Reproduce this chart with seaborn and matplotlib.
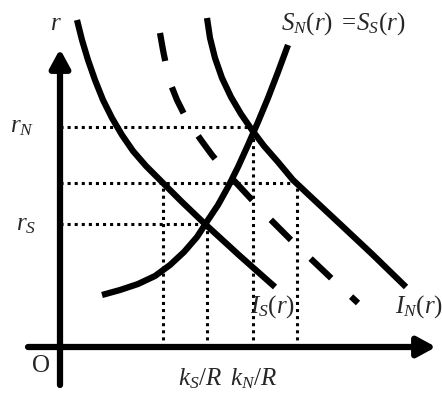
import pandas as pd
import matplotlib.pyplot as plt
import seaborn as sns

# Kurver (origo i O, enheder ~ pixels)
s_x = [42, 60, 78, 95, 110, 124, 137, 148, 158, 168, 178, 188, 198, 208, 218, 228]
s_y = [52, 57, 63, 71, 82, 95, 110, 127, 142, 160, 180, 202, 225, 249, 275, 302]
is_x = [17, 22, 28, 35, 43, 52, 62, 73, 86, 100, 122, 145, 180, 215]
is_y = [327, 307, 287, 267, 247, 229, 212, 196, 181, 167, 145, 123, 91, 60]
in_x = [147, 150, 155, 162, 171, 181, 192, 204, 218, 233, 250, 280, 312, 346]
in_y = [329, 309, 289, 269, 250, 233, 217, 201, 185, 167, 151, 123, 93, 60]
mid_x = [100, 103, 106, 111, 117, 124, 132, 141, 152, 166, 180, 193, 210, 230, 250, 270, 298]
mid_y = [314, 297, 282, 262, 247, 233, 220, 207, 192, 175, 160, 146, 128, 108, 89, 70, 44]

# Hjælpelinjer: renter (r_N, midt, r_S) og k/R-værdier
rates = [220, 164, 123]
rate_ends = [193, 237, 147]
k_vals = [103, 147, 193, 237]
k_tops = [164, 123, 220, 164]

sns.set_style('white')
plt.rcParams['font.family'] = ['Liberation Serif', 'DejaVu Serif']
plt.rcParams['mathtext.fontset'] = 'custom'
plt.rcParams['mathtext.rm'] = 'Liberation Serif'
plt.rcParams['mathtext.it'] = 'Liberation Serif:italic'
plt.rcParams['lines.scale_dashes'] = False

fig, ax = plt.subplots(figsize=(4.42, 3.94), dpi=100)
fig.subplots_adjust(0, 0, 1, 1)
ax.set_axis_off()
ax.set_xlim(-60, 382)
ax.set_ylim(-47, 347)

lw = 4.5
df_s = pd.DataFrame({'x': s_x, 'y': s_y})
sns.lineplot(data=df_s, x='x', y='y', sort=False, estimator=None, color='black',
             lw=lw, solid_capstyle='butt', solid_joinstyle='round', ax=ax)
sns.lineplot(x=is_x, y=is_y, sort=False, estimator=None, color='black',
             lw=lw, solid_capstyle='butt', solid_joinstyle='round', ax=ax)
sns.lineplot(x=in_x, y=in_y, sort=False, estimator=None, color='black',
             lw=lw, solid_capstyle='butt', solid_joinstyle='round', ax=ax)
sns.lineplot(x=mid_x, y=mid_y, sort=False, estimator=None, color='black',
             lw=lw, linestyle=(0, (20.5, 19.5)), dash_capstyle='butt',
             dash_joinstyle='round', ax=ax)

dot = (0, (2.2, 2.9))
ax.hlines(rates, 0, rate_ends, colors='black', lw=2.2, linestyles=[dot])
ax.vlines(k_vals, 0, k_tops, colors='black', lw=2.2, linestyles=[dot])

# Akser med pile
arrow = dict(arrowstyle='-|>,head_length=0.55,head_width=0.3', lw=lw, color='black',
             shrinkA=0, shrinkB=0, mutation_scale=20)
ax.annotate('', xy=(0, 298), xytext=(0, -38), arrowprops=arrow)
ax.annotate('', xy=(376, 0), xytext=(-32, 0), arrowprops=arrow)

fs = 18
ax.text(-10, 317, '$r$', fontsize=fs, ha='left', va='baseline')
ax.text(-50, 215, '$r_N$', fontsize=fs, ha='left', va='baseline')
ax.text(-44, 117, '$r_S$', fontsize=fs, ha='left', va='baseline')
ax.text(-28, -25, 'O', fontsize=fs, ha='left', va='baseline')
ax.text(118, -38, '$k_S/R$', fontsize=fs, ha='left', va='baseline')
ax.text(170, -38, '$k_N/R$', fontsize=fs, ha='left', va='baseline')
ax.text(221, 317, r'$S_N(r)\ =\!S_S(r)$', fontsize=fs, ha='left', va='baseline')
ax.text(190, 34, '$I_S(r)$', fontsize=fs, ha='left', va='baseline')
ax.text(335, 34, '$I_N(r)$', fontsize=fs, ha='left', va='baseline')

plt.savefig('out.png', dpi=100)
plt.close()
